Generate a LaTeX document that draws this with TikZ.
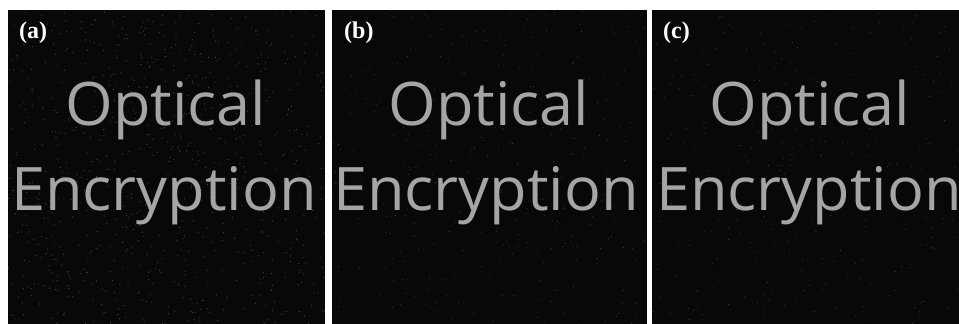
\documentclass[tikz,border=0pt]{standalone}
\usepackage{fontspec}
\newfontfamily\panelfont{Open Sans}
\newfontfamily\labelfont{Liberation Serif}
\definecolor{panelbg}{RGB}{8,8,8}
\definecolor{txtgray}{RGB}{165,165,165}
\definecolor{noisegray}{RGB}{70,70,70}
\tikzset{
  panel/.style={fill=panelbg, draw=none},
  bigtext/.style={text=txtgray, font=\panelfont\fontsize{60}{60}\selectfont, inner sep=0pt, anchor=base, xscale=1.02},
  plabel/.style={text=white, font=\labelfont\bfseries\fontsize{24}{24}\selectfont, inner sep=0pt, anchor=base west},
  grain/.style={fill=noisegray}
}
\begin{document}
\begin{tikzpicture}[x=1pt,y=-1pt]
\useasboundingbox (0,0) rectangle (959,324);
\fill[white] (0,0) rectangle (959,324);
\pgfmathsetseed{7}
% panel (a)
\begin{scope}
\clip (8,10) rectangle (325,324);
\fill[panel] (8,10) rectangle (325,324);
\foreach \i in {1,...,800}{
  \pgfmathsetmacro{\px}{8+317*rnd}
  \pgfmathsetmacro{\py}{10+314*rnd}
  \fill[grain] (\px,\py) circle (0.6);
}
\node[bigtext] (opta) at (166,125) {Optical};
\node[bigtext] (enca) at (164,210) {Encryption};
\end{scope}
\node[plabel] (la) at (19,38) {(a)};
% panel (b)
\begin{scope}
\clip (332,10) rectangle (647,324);
\fill[panel] (332,10) rectangle (647,324);
\foreach \i in {1,...,300}{
  \pgfmathsetmacro{\px}{332+315*rnd}
  \pgfmathsetmacro{\py}{10+314*rnd}
  \fill[grain] (\px,\py) circle (0.5);
}
\node[bigtext] (optb) at (489,125) {Optical};
\node[bigtext] (encb) at (486,210) {Encryption};
\end{scope}
\node[plabel] (lb) at (344,38) {(b)};
% panel (c)
\begin{scope}
\clip (652,10) rectangle (959,324);
\fill[panel] (652,10) rectangle (959,324);
\foreach \i in {1,...,300}{
  \pgfmathsetmacro{\px}{652+307*rnd}
  \pgfmathsetmacro{\py}{10+314*rnd}
  \fill[grain] (\px,\py) circle (0.5);
}
\node[bigtext] (optc) at (810,125) {Optical};
\node[bigtext] (encc) at (809,210) {Encryption};
\end{scope}
\node[plabel] (lc) at (663,38) {(c)};
\end{tikzpicture}
\end{document}
